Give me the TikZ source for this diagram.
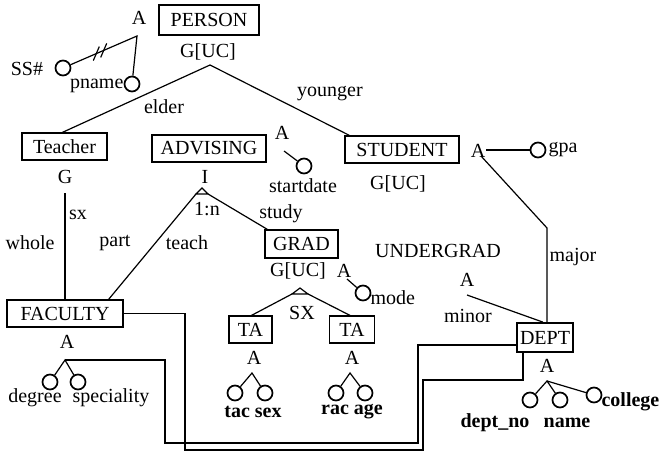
\documentclass[tikz,border=0pt]{standalone}
\usepackage{fontspec}
\setmainfont{Liberation Serif}
\usetikzlibrary{calc}
\begin{document}
\begin{tikzpicture}[x=1pt,y=-1pt,line width=1.2pt,
  font=\fontsize{20}{22}\selectfont,
  ent/.style={draw,inner sep=0pt,minimum height=27pt},
  att/.style={draw,circle,minimum size=15pt,inner sep=0pt,line width=1.7pt},
  lbl/.style={inner sep=0pt},
  blbl/.style={inner sep=0pt,font=\fontsize{20}{22}\selectfont\bfseries}]
\fill[white] (0,0) rectangle (660,452);
\useasboundingbox (0,0) rectangle (660,452);
% entity boxes
\node[ent,minimum width=100pt,minimum height=30pt] (person) at (209,20) {PERSON};
\node[ent,minimum width=85pt] (teacher) at (64.5,146.5) {Teacher};
\node[ent,minimum width=114pt] (advising) at (209,148.5) {ADVISING};
\node[ent,minimum width=114pt] (student) at (402,149.5) {STUDENT};
\node[ent,minimum width=73pt,minimum height=28pt] (grad) at (301.5,244) {GRAD};
\node[ent,minimum width=116pt] (faculty) at (65,313.5) {FACULTY};
\node[ent,minimum width=43pt] (ta1) at (250.5,329.5) {TA};
\node[ent,minimum width=45pt] (ta2) at (352,329.5) {TA};
\node[ent,minimum width=56pt,minimum height=29pt,line width=1.7pt] (dept) at (545,337.5) {DEPT};
% labels
\node[lbl] (pA) at (139,18) {A};
\node[lbl] (pG) at (208,52) {G[UC]};
\node[lbl] (ss) at (27,69) {SS\#};
\node[lbl,anchor=east] (pn) at (124,86) {pname};
\node[lbl] (elder) at (164,107) {elder};
\node[lbl] (younger) at (330,94) {younger};
\node[lbl] (tG) at (65,177) {G};
\node[lbl] (aI) at (205,177) {I};
\node[lbl] (aA) at (282,133) {A};
\node[lbl] (sd) at (303,186) {startdate};
\node[lbl] (sG) at (398,184) {G[UC]};
\node[lbl] (sA) at (478,151) {A};
\node[lbl,anchor=west] (gpa) at (548,150) {gpa};
\node[lbl] (one) at (207,209) {1:n};
\node[lbl] (study) at (281,214) {study};
\node[lbl] (sx) at (78,215) {sx};
\node[lbl] (whole) at (30,243) {whole};
\node[lbl] (part) at (115,243) {part};
\node[lbl] (teach) at (187,243) {teach};
\node[lbl] (ug) at (438,251) {UNDERGRAD};
\node[lbl] (major) at (573,257) {major};
\node[lbl] (gG) at (298,271) {G[UC]};
\node[lbl] (gA) at (344,271) {A};
\node[lbl,anchor=west] (mode) at (370,298) {mode};
\node[lbl] (uA) at (467,280) {A};
\node[lbl] (minor) at (468,316) {minor};
\node[lbl] (SX) at (302,313) {SX};
\node[lbl] (fA) at (67,342) {A};
\node[lbl] (t1A) at (254,358) {A};
\node[lbl] (t2A) at (352,358) {A};
\node[lbl] (dA) at (547,366) {A};
\node[lbl] (degree) at (35,398) {degree};
\node[lbl] (spec) at (111,398) {speciality};
\node[blbl] (tacsex) at (253,412) {tac sex};
\node[blbl] (racage) at (352,412) {rac age};
\node[blbl] (dno) at (495,423) {dept\_no};
\node[blbl] (dname) at (567,423) {name};
\node[blbl,anchor=west] (college) at (601,402) {college};
% attribute circles
\node[att] (cSS) at (63,68) {};
\node[att] (cPn) at (132,84) {};
\node[att] (cSd) at (304,166) {};
\node[att] (cGpa) at (538,150) {};
\node[att] (cMode) at (363,293) {};
\node[att] (cDeg) at (50,382) {};
\node[att] (cSpec) at (78,382) {};
\node[att] (cTac) at (235,393) {};
\node[att] (cSex) at (265,393) {};
\node[att] (cRac) at (336,393) {};
\node[att] (cAge) at (365,393) {};
\node[att] (cDno) at (530,400) {};
\node[att] (cName) at (560,400) {};
\node[att] (cCol) at (594,395) {};
% junction coordinates
\coordinate (pAj) at (137,36);
\coordinate (pGj) at (210,65);
\coordinate (tGj) at (65,193);
\coordinate (advT) at (202,188);
\coordinate (advL) at (196,194);
\coordinate (advR) at (208,194);
\coordinate (grT) at (300,288);
\coordinate (grL) at (292,294);
\coordinate (grR) at (308,294);
\coordinate (aAj) at (284,151);
\coordinate (gAj) at (347,279);
\coordinate (sAj) at (481,156);
\coordinate (sAr) at (486,150);
\coordinate (bend) at (547,228);
\coordinate (uAj) at (467,295);
\coordinate (fTree) at (65,360);
\coordinate (t1Tree) at (252,373);
\coordinate (t2Tree) at (350,373);
\coordinate (dTree) at (547,381);
% PERSON
\draw (cSS) -- (pAj) -- (cPn);
\draw ($(cSS)!0.45!(pAj)+(-3,7)$) -- ++(6,-14);
\draw ($(cSS)!0.55!(pAj)+(-3,7)$) -- ++(6,-14);
\coordinate (tTop) at ($(teacher.north west)+(41,0)$);
\draw (tTop) -- (pGj) -- ($(student.north west)+(5,0)$);
% Teacher to FACULTY
\draw (tGj) -- (faculty.north -| tGj);
% ADVISING
\draw (advT) -- (advL) -- (advR) -- cycle;
\draw (advL) -- ($(faculty.north east)+(-15,0)$);
\draw (advR) -- ($(grad.north west)+(3,0)$);
\draw (aAj) -- (cSd);
% GRAD
\draw (gAj) -- (cMode);
\draw (grT) -- (grL) -- (grR) -- cycle;
\draw (grL) -- ($(ta1.north)+(1,0)$);
\draw (grR) -- ($(ta2.north)+(-2,0)$);
% STUDENT
\draw (sAr) -- (cGpa);
\draw (sAj) -- (bend) -- (dept.north -| bend);
\draw (uAj) -- ($(dept.north)+(-2,0)$);
% trees
\draw (cDeg) -- (fTree) -- (cSpec);
\draw (cTac) -- (t1Tree) -- (cSex);
\draw (cRac) -- (t2Tree) -- (cAge);
\draw (cDno) -- (dTree) -- (cName);
\draw (dTree) -- (cCol);
% long routes
\draw (faculty.east) -- (185,313.5) -- (185,450) -- (423,450) -- (423,380) -- (523,380) -- (dept.south -| 523,0);
\draw (fTree) -- (165,360) -- (165,443) -- (418,443) -- (418,345) -- (dept.west |- 0,345);
\end{tikzpicture}
\end{document}
